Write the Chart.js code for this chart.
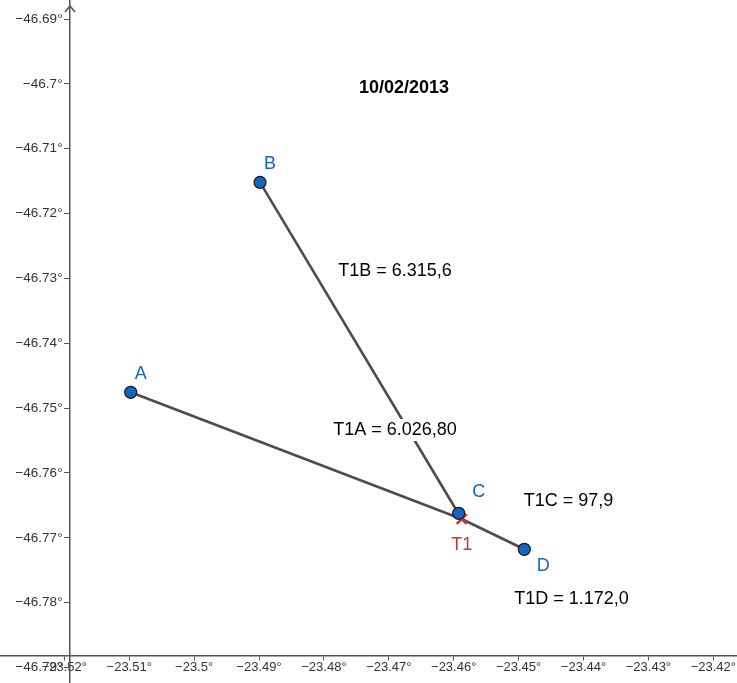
<!DOCTYPE html>
<html lang="pt">
<head>
  <meta charset="UTF-8" />
  <title>10/02/2013</title>
  <script src="https://cdn.jsdelivr.net/npm/chart.js"></script>
  <style>
    html, body { margin: 0; padding: 0; background: #fff; }
    #wrap { width: 737px; height: 683px; }
  </style>
</head>
<body>
<div id="wrap"><canvas id="geoChart" width="737" height="683"></canvas></div>

<script>
// points (lon on x, lat on y)
const pointNames = ['A', 'B', 'C', 'D'];
const pointLon = [-23.50977, -23.48984, -23.45923, -23.44912];
const pointLat = [-46.74756, -46.71518, -46.76622, -46.77177];

// target T1
const t1Lon = -23.45877;
const t1Lat = -46.7671;

// distance notes
const noteText = ['T1B = 6.315,6', 'T1A = 6.026,80', 'T1C = 97,9', 'T1D = 1.172,0'];
const noteLon = [-23.46904, -23.46904, -23.44231, -23.44185];
const noteLat = [-46.72886, -46.75338, -46.76432, -46.77944];

const titleText = '10/02/2013';
const titleLon = -23.46766;
const titleLat = -46.70064;

// axis ticks
const xTicks = [-23.52, -23.51, -23.5, -23.49, -23.48, -23.47, -23.46, -23.45, -23.44, -23.43, -23.42];
const xTickLabels = ['−23.52°', '−23.51°', '−23.5°', '−23.49°', '−23.48°', '−23.47°', '−23.46°', '−23.45°', '−23.44°', '−23.43°', '−23.42°'];
const yTicks = [-46.79, -46.78, -46.77, -46.76, -46.75, -46.74, -46.73, -46.72, -46.71, -46.7, -46.69];
const yTickLabels = ['−46.79°', '−46.78°', '−46.77°', '−46.76°', '−46.75°', '−46.74°', '−46.73°', '−46.72°', '−46.71°', '−46.7°', '−46.69°'];

// view window and where the axes cross
const xMin = -23.52991, xMax = -23.41635;
const yMin = -46.79239, yMax = -46.68707;
const axisX = -23.51912;  // y axis sits here
const axisY = -46.78823;  // x axis sits here

const BLUE = '#1565c0';
const RED = '#d32f2f';
const FONT = '"Liberation Sans", Arial, sans-serif';

// label offsets in px from the point
const nameOffset = { A: [10, -18], B: [10, -18], C: [20, -21], D: [19, 17] };

const segments = pointNames.map((n, i) => ({
  data: [{ x: t1Lon, y: t1Lat }, { x: pointLon[i], y: pointLat[i] }],
  showLine: true,
  borderColor: '#4d4d4d',
  borderWidth: 2.6,
  pointRadius: 0,
  fill: false
}));

const labelsPlugin = {
  id: 'geoLabels',
  afterDraw(chart) {
    const ctx = chart.ctx;
    const xs = chart.scales.x, ys = chart.scales.y;
    ctx.save();
    ctx.textAlign = 'center';
    ctx.textBaseline = 'middle';

    // y axis arrow
    const ax = xs.getPixelForValue(axisX);
    ctx.strokeStyle = '#555';
    ctx.lineWidth = 1.5;
    ctx.beginPath();
    ctx.moveTo(ax - 5, 12);
    ctx.lineTo(ax, 6);
    ctx.lineTo(ax + 5, 12);
    ctx.stroke();

    // point names
    ctx.font = '18px ' + FONT;
    ctx.fillStyle = BLUE;
    pointNames.forEach((n, i) => {
      const px = xs.getPixelForValue(pointLon[i]) + nameOffset[n][0];
      const py = ys.getPixelForValue(pointLat[i]) + nameOffset[n][1];
      ctx.fillText(n, px, py);
    });
    ctx.fillStyle = RED;
    ctx.fillText('T1', xs.getPixelForValue(t1Lon), ys.getPixelForValue(t1Lat) + 26);

    // distance notes with white backing
    ctx.font = '18px ' + FONT;
    noteText.forEach((t, i) => {
      const px = xs.getPixelForValue(noteLon[i]);
      const py = ys.getPixelForValue(noteLat[i]);
      const w = ctx.measureText(t).width;
      ctx.fillStyle = '#fff';
      ctx.fillRect(px - w / 2 - 3, py - 11, w + 6, 22);
      ctx.fillStyle = '#000';
      ctx.fillText(t, px, py);
    });

    ctx.font = 'bold 18px ' + FONT;
    ctx.fillStyle = '#000';
    ctx.fillText(titleText, xs.getPixelForValue(titleLon), ys.getPixelForValue(titleLat));
    ctx.restore();
  }
};

function noPad(scale) {
  scale.paddingLeft = scale.paddingRight = scale.paddingTop = scale.paddingBottom = 0;
}

const chart = new Chart(document.getElementById('geoChart'), {
  type: 'scatter',
  data: {
    datasets: [
      {
        data: pointLon.map((x, i) => ({ x, y: pointLat[i] })),
        pointRadius: 6,
        pointHoverRadius: 6,
        pointBackgroundColor: BLUE,
        pointBorderColor: '#1a1a1a',
        pointBorderWidth: 1.2
      },
      {
        data: [{ x: t1Lon, y: t1Lat }],
        pointStyle: 'crossRot',
        pointRadius: 7,
        pointBorderColor: RED,
        pointBorderWidth: 2.6
      },
      ...segments
    ]
  },
  options: {
    responsive: false,
    animation: false,
    layout: { padding: 0, autoPadding: false },
    plugins: {
      legend: { display: false },
      tooltip: { enabled: false }
    },
    scales: {
      x: {
        type: 'linear',
        min: xMin,
        max: xMax,
        position: { y: axisY },
        afterBuildTicks: s => { s.ticks = xTicks.map(v => ({ value: v })); },
        afterFit: noPad,
        grid: { drawOnChartArea: false, drawTicks: true, tickLength: 4, color: '#555' },
        border: { color: '#555', width: 1.5 },
        ticks: {
          autoSkip: false,
          maxRotation: 0,
          padding: 0,
          color: '#333',
          font: { family: FONT, size: 13 },
          callback: (v, i) => xTickLabels[i]
        }
      },
      y: {
        type: 'linear',
        min: yMin,
        max: yMax,
        position: { x: axisX },
        afterBuildTicks: s => { s.ticks = yTicks.map(v => ({ value: v })); },
        afterFit: noPad,
        grid: { drawOnChartArea: false, drawTicks: true, tickLength: 5, color: '#555' },
        border: { color: '#555', width: 1.5 },
        ticks: {
          autoSkip: false,
          color: '#333',
          font: { family: FONT, size: 13.5 },
          // labels on a positioned axis sit flush to the line; trailing spaces leave room for the tick
          callback: (v, i) => yTickLabels[i] + '  '
        }
      }
    }
  },
  plugins: [labelsPlugin]
});
</script>
</body>
</html>
